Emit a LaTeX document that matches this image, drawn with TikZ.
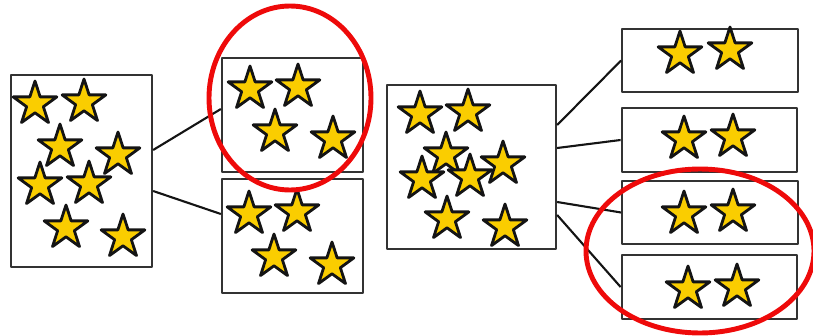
\documentclass[tikz,border=0pt]{standalone}
\usepackage{tikz}
\usetikzlibrary{shapes.geometric,calc}
\definecolor{ink}{HTML}{141414}
\definecolor{ink2}{HTML}{333333}
\definecolor{gold}{HTML}{FACD00}
\definecolor{hilite}{HTML}{EE0A0A}
\tikzset{
  every picture/.style={line join=round},
  set/.style={draw=ink2, fill=white, line width=1.3pt, inner sep=0pt},
  bigset/.style={set, minimum width=2.82cm, minimum height=3.84cm},
  halfset/.style={set, minimum width=2.82cm, minimum height=2.28cm},
  midset/.style={set, minimum width=3.38cm, minimum height=3.28cm},
  slimset/.style={set, minimum width=3.51cm, minimum height=1.27cm},
  starry/.style={star, star points=5, star point ratio=2.618,
    minimum size=0.92cm, inner sep=0pt, fill=gold, draw=ink, line width=1.6pt},
  link/.style={draw=ink, line width=1.2pt},
  ring/.style={draw=hilite, line width=2.8pt},
}
\begin{document}
\begin{tikzpicture}
  \useasboundingbox (0,0) rectangle (16.26,-6.7);
  \clip (0,0) rectangle (16.26,-6.7);
  % first split
  \node[bigset] (A) at (1.63,-3.42) {};
  \node[halfset] (B1) at (5.85,-2.30) {};
  \node[halfset] (B2) at (5.85,-4.72) {};
  \draw[link] ($(A.east)+(0,0.42)$) -- ($(B1.west)+(0,0.12)$);
  \draw[link] ($(A.east)+(0,-0.40)$) -- ($(B2.west)+(0,0.44)$);
  % second split
  \node[midset] (C) at (9.43,-3.34) {};
  \node[slimset] (D1) at (14.20,-1.21) {};
  \node[slimset] (D2) at (14.19,-2.80) {};
  \node[slimset] (D3) at (14.20,-4.25) {};
  \node[slimset] (D4) at (14.19,-5.74) {};
  \draw[link] ($(C.east)+(0,0.84)$) -- (D1.west);
  \draw[link] ($(C.east)+(0,0.38)$) -- (D2.west);
  \draw[link] ($(C.east)+(0,-0.70)$) -- (D3.west);
  \draw[link] ($(C.east)+(0,-0.96)$) -- (D4.west);
  % stars
  \foreach \p [count=\i] in {(0.70,-2.08),(1.68,-2.04),(1.20,-2.94),(2.36,-3.10),
      (0.80,-3.70),(1.78,-3.68),(1.32,-4.56),(2.46,-4.74)}
    \node[starry] (sa\i) at \p {};
  \foreach \p [count=\i] in {(5.00,-1.78),(5.96,-1.74),(5.50,-2.64),(6.66,-2.78)}
    \node[starry] (sb\i) at \p {};
  \foreach \p [count=\i] in {(4.98,-4.28),(5.94,-4.24),(5.48,-5.14),(6.64,-5.30)}
    \node[starry] (sc\i) at \p {};
  \foreach \p [count=\i] in {(8.40,-2.28),(9.36,-2.24),(8.92,-3.10),(10.06,-3.28),
      (8.44,-3.58),(9.40,-3.54),(8.94,-4.38),(10.10,-4.54)}
    \node[starry] (sd\i) at \p {};
  \foreach \p [count=\i] in {(13.60,-1.08),(14.60,-1.00),(13.68,-2.78),(14.66,-2.74),
      (13.68,-4.28),(14.66,-4.24),(13.76,-5.78),(14.74,-5.74)}
    \node[starry] (se\i) at \p {};
  % highlights
  \draw[ring] (5.80,-1.96) ellipse [x radius=1.62cm, y radius=1.84cm];
  \draw[ring] (14.00,-5.02) ellipse [x radius=2.28cm, y radius=1.64cm];
\end{tikzpicture}
\end{document}
